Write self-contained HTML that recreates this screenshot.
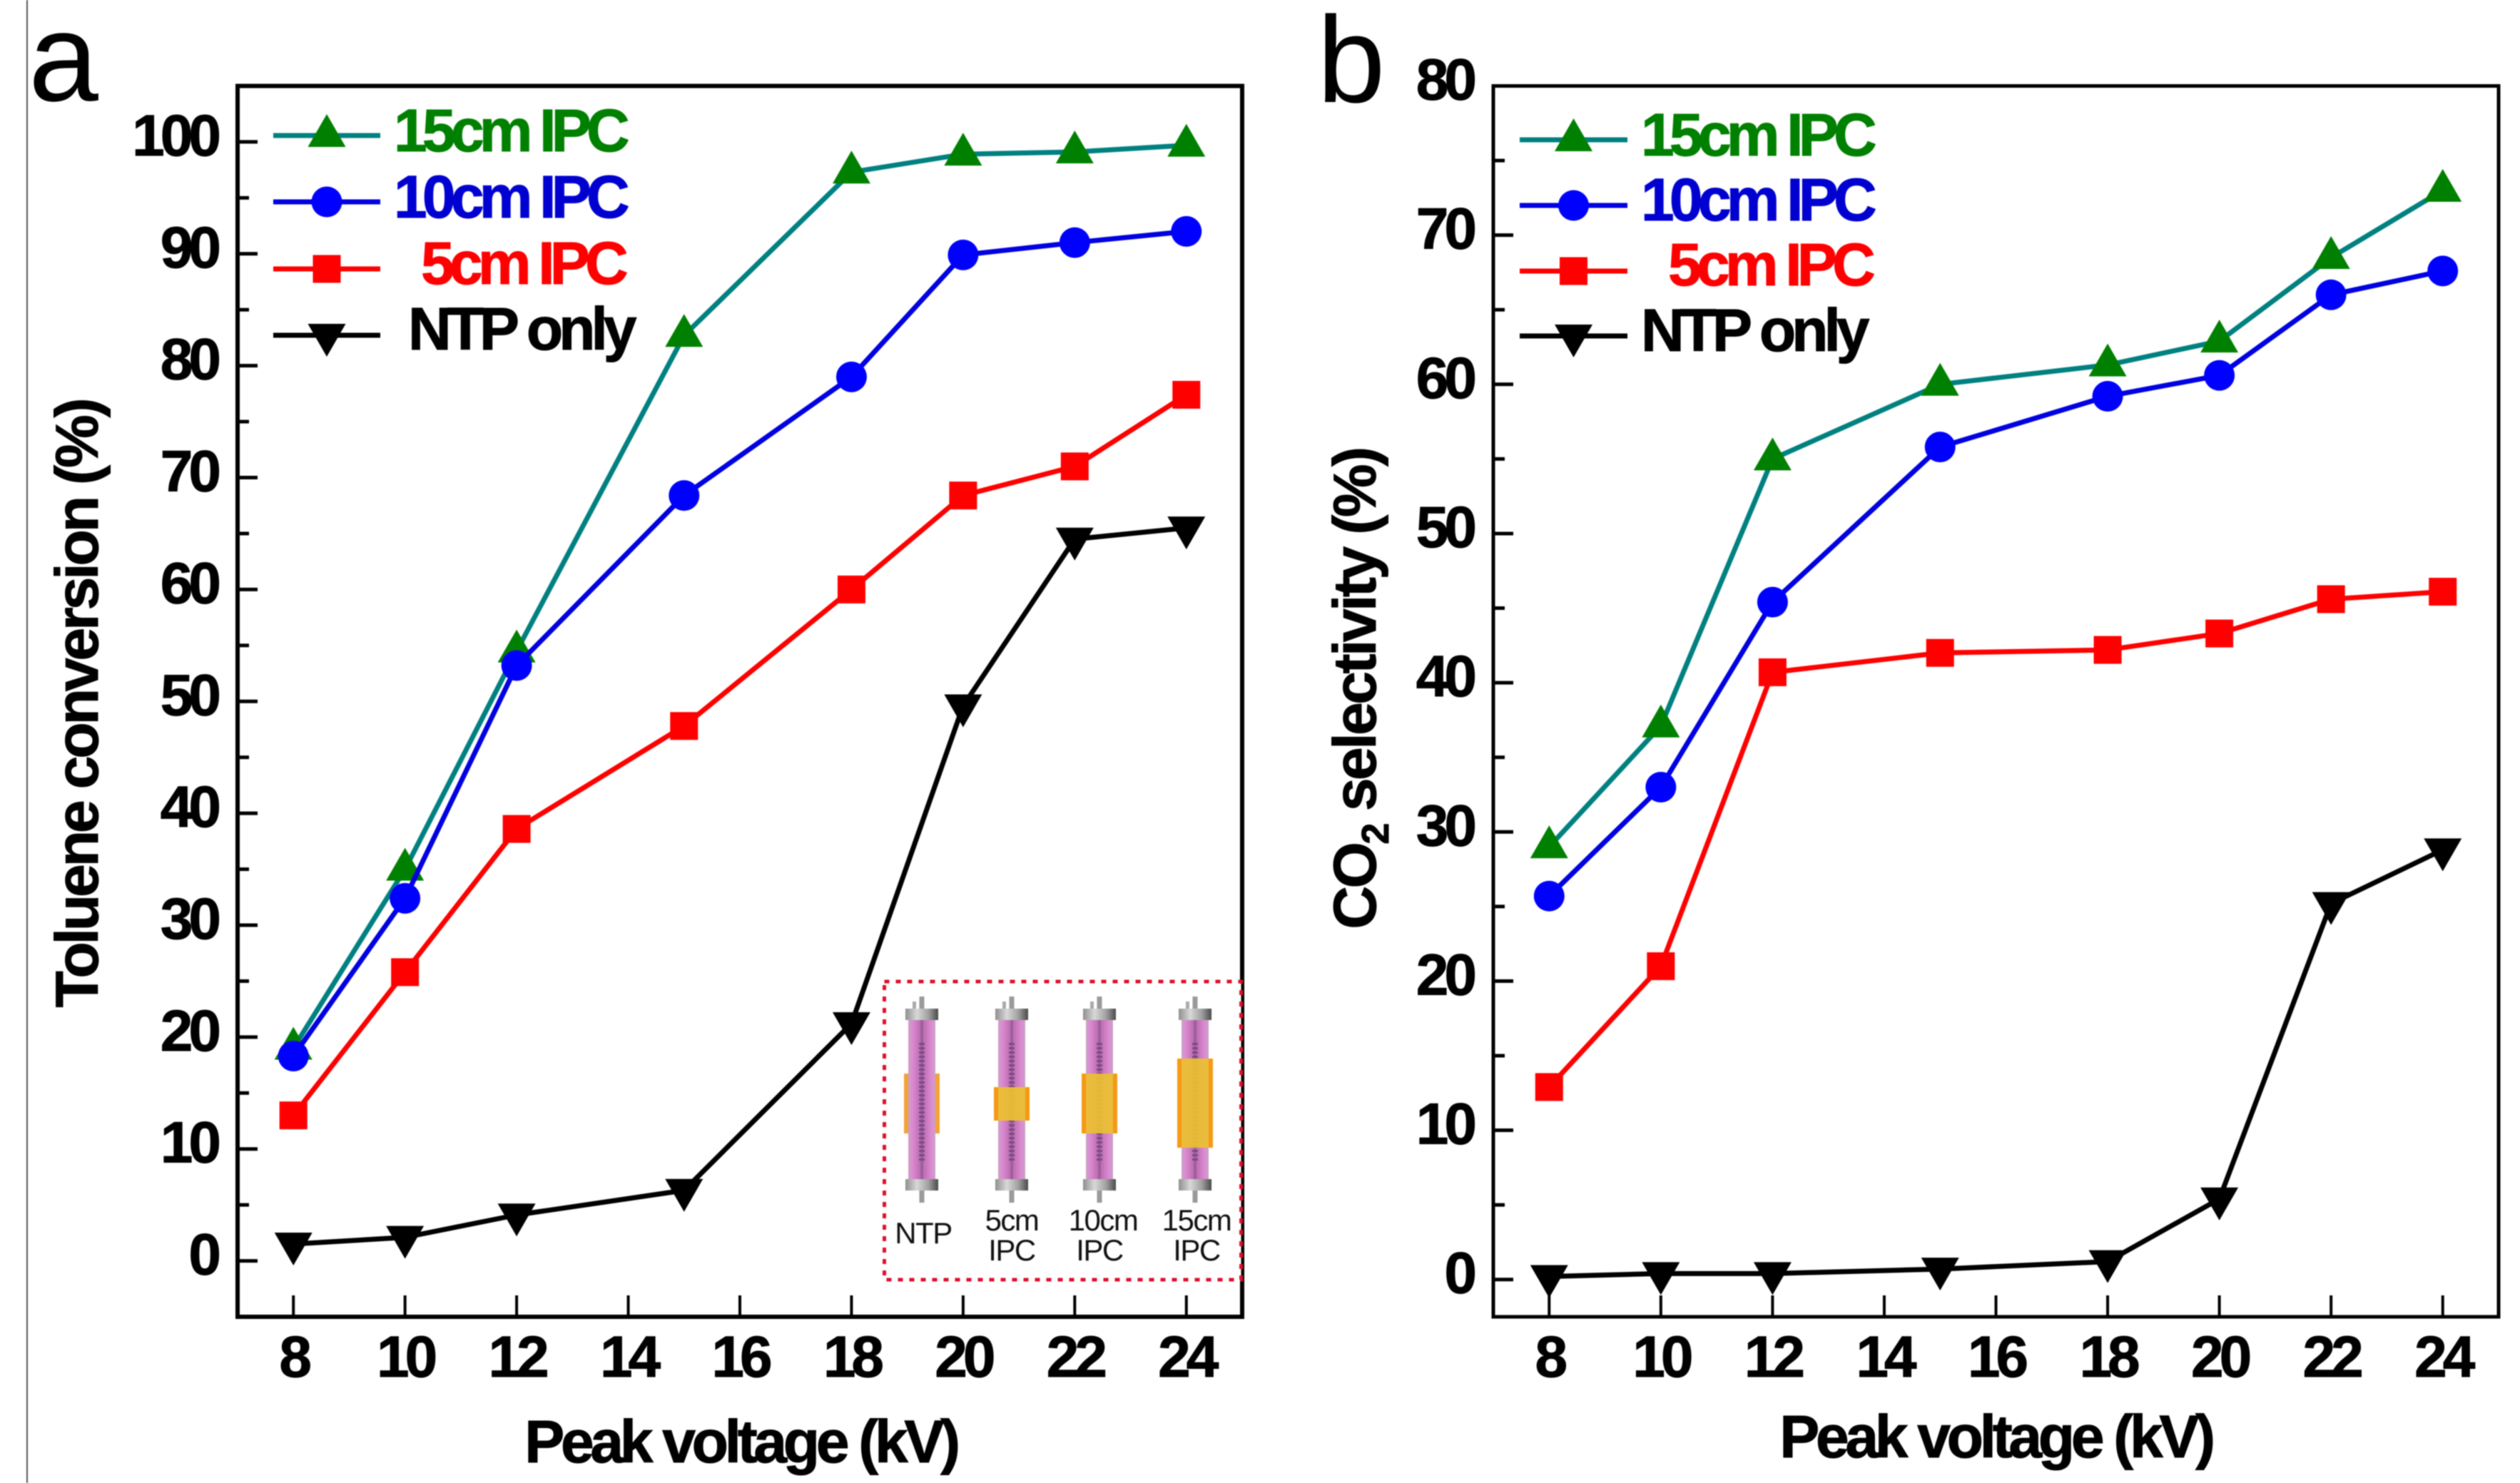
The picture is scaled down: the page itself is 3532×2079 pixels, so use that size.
<!DOCTYPE html>
<html lang="en">
<head>
<meta charset="utf-8">
<title>Toluene conversion and CO2 selectivity vs peak voltage</title>
<style>
html,body{margin:0;padding:0;background:#fff;}
svg{display:block;filter:blur(0.9px);}
text{font-family:"Liberation Sans",sans-serif;}
text[font-weight="bold"]{stroke:#000;stroke-width:1px;}
</style>
</head>
<body>
<svg id="figure" xmlns="http://www.w3.org/2000/svg" width="3532" height="2079" viewBox="0 0 3532 2079">
  <defs>
    <linearGradient id="capGrad" x1="0" x2="1" y1="0" y2="0">
      <stop offset="0" stop-color="#8f8f8f"/><stop offset=".35" stop-color="#d8d8d8"/><stop offset=".7" stop-color="#a0a0a0"/><stop offset="1" stop-color="#4a4a4a"/>
    </linearGradient>
    <linearGradient id="tubeGrad" x1="0" x2="1" y1="0" y2="0">
      <stop offset="0" stop-color="#c9a3c4"/><stop offset=".15" stop-color="#dc8ad2"/><stop offset=".42" stop-color="#c06fb4"/><stop offset=".5" stop-color="#8e5a92"/><stop offset=".58" stop-color="#c06fb4"/><stop offset=".85" stop-color="#dc8ad2"/><stop offset="1" stop-color="#c9a3c4"/>
    </linearGradient>
    <g id="tube-body">
      <rect x="-3.5" y="1397" width="7" height="20" fill="#9a9a9a"/>
      <rect x="-13" y="1404" width="5" height="12" fill="#aaa"/>
      <rect x="-3.5" y="1666" width="7" height="20" fill="#9a9a9a"/>
      <rect x="-19" y="1428" width="38" height="226" fill="url(#tubeGrad)"/>
      <line x1="0" x2="0" y1="1462" y2="1628" stroke="#7a4a86" stroke-width="8" stroke-dasharray="3 3"/>
      <rect x="-23" y="1414" width="46" height="16" fill="url(#capGrad)"/>
      <rect x="-23" y="1653" width="46" height="16" fill="url(#capGrad)"/>
    </g>
  </defs>
  <rect x="0" y="0" width="3532" height="2079" fill="#fff"/>
  <rect x="37" y="0" width="2" height="2079" fill="#555"/>
  <text x="40" y="141" font-size="176">a</text>
  <text x="1846" y="143" font-size="172">b</text>
  <g id="panel-a"></g>
  <g id="panel-b"></g>

  <g>
    <rect x="1239.5" y="1376" width="500" height="418" fill="#fff" stroke="#e0102a" stroke-width="5" stroke-dasharray="7 9"/>
    <g transform="translate(1292 0)">
      <use href="#tube-body"/>
      <rect x="-25" y="1505" width="6" height="84" fill="#f3a13a"/><rect x="19" y="1505" width="6" height="84" fill="#f3a13a"/>
    </g>
    <g transform="translate(1418 0)">
      <use href="#tube-body"/>
      <rect x="-25" y="1524" width="50" height="47" fill="#ecc030" fill-opacity=".92"/><rect x="-25" y="1524" width="6" height="47" fill="#f59a14"/><rect x="19" y="1524" width="6" height="47" fill="#f59a14"/>
    </g>
    <g transform="translate(1541 0)">
      <use href="#tube-body"/>
      <rect x="-25" y="1505" width="50" height="84" fill="#ecc030" fill-opacity=".92"/><rect x="-25" y="1505" width="6" height="84" fill="#f59a14"/><rect x="19" y="1505" width="6" height="84" fill="#f59a14"/>
    </g>
    <g transform="translate(1675 0)">
      <use href="#tube-body"/>
      <rect x="-25" y="1484" width="50" height="125" fill="#ecc030" fill-opacity=".92"/><rect x="-25" y="1484" width="6" height="125" fill="#f59a14"/><rect x="19" y="1484" width="6" height="125" fill="#f59a14"/>
    </g>
    <g font-size="42" text-anchor="middle" letter-spacing="-1.5" fill="#111">
      <text x="1294" y="1743">NTP</text>
      <text x="1418" y="1725">5cm</text>
      <text x="1418" y="1767">IPC</text>
      <text x="1546" y="1725">10cm</text>
      <text x="1541" y="1767">IPC</text>
      <text x="1677" y="1725">15cm</text>
      <text x="1677" y="1767">IPC</text>
    </g>
  </g>
</svg>
<script>
// ---- chart data ----
const voltages = [8, 10, 12, 15, 18, 20, 22, 24];
const xTickLabels = [8, 10, 12, 14, 16, 18, 20, 22, 24];

const tolueneIpc15 = [19, 35, 54.5, 82.7, 97.3, 98.9, 99.1, 99.7];
const tolueneIpc10 = [18.3, 32.4, 53.2, 68.4, 79, 89.9, 91, 92];
const tolueneIpc5 = [13, 25.8, 38.6, 47.8, 60, 68.4, 71, 77.4];
const tolueneNtp = [1.5, 2.1, 4.1, 6.3, 21.2, 49.6, 64.5, 65.5];
const tolueneYTickLabels = [0, 10, 20, 30, 40, 50, 60, 70, 80, 90, 100];
const tolueneYMinorTicks = [5, 15, 25, 35, 45, 55, 65, 75, 85, 95];

const co2Ipc15 = [29, 37.1, 55, 60, 61.3, 62.9, 68.5, 73];
const co2Ipc10 = [25.7, 33, 45.4, 55.8, 59.2, 60.6, 66, 67.6];
const co2Ipc5 = [12.9, 21, 40.7, 42, 42.2, 43.3, 45.6, 46.1];
const co2Ntp = [0.2, 0.4, 0.4, 0.7, 1.2, 5.4, 25.2, 28.8];
const co2YTickLabels = [0, 10, 20, 30, 40, 50, 60, 70, 80];
const co2YMinorTicks = [5, 15, 25, 35, 45, 55, 65, 75];

const seriesNames = ['15cm IPC', '10cm IPC', '5cm IPC', 'NTP only'];

// ---- drawing ----
const NS = 'http://www.w3.org/2000/svg';
const STYLE = {
  '15cm IPC': {line: '#008080', fill: '#008000', text: '#008000', marker: 'up', slug: 'ipc-15cm'},
  '10cm IPC': {line: '#0000e0', fill: '#0000ff', text: '#0000d0', marker: 'circle', slug: 'ipc-10cm'},
  '5cm IPC': {line: '#ff0000', fill: '#ff0000', text: '#ff0000', marker: 'square', slug: 'ipc-5cm'},
  'NTP only': {line: '#000000', fill: '#000000', text: '#000000', marker: 'down', slug: 'ntp-only'}
};

function make(parent, tag, attrs) {
  const node = document.createElementNS(NS, tag);
  for (const key in attrs) node.setAttribute(key, attrs[key]);
  parent.appendChild(node);
  return node;
}

function drawMarker(parent, kind, cx, cy, fill) {
  let node;
  if (kind === 'up') {
    node = make(parent, 'polygon', {points: `${cx},${cy - 30} ${cx + 26.5},${cy + 16} ${cx - 26.5},${cy + 16}`, fill});
  } else if (kind === 'down') {
    node = make(parent, 'polygon', {points: `${cx},${cy + 30} ${cx + 26.5},${cy - 16} ${cx - 26.5},${cy - 16}`, fill});
  } else if (kind === 'circle') {
    node = make(parent, 'circle', {cx, cy, r: 21.5, fill});
  } else {
    node = make(parent, 'rect', {x: cx - 19.5, y: cy - 19.5, width: 39, height: 39, fill});
  }
  return node;
}

function drawPanel(cfg) {
  const root = document.getElementById(cfg.id);
  const xScale = v => cfg.left + (v - cfg.xMin) / (cfg.xMax - cfg.xMin) * (cfg.right - cfg.left);
  const yScale = v => cfg.bottom - (v - cfg.yMin) / (cfg.yMax - cfg.yMin) * (cfg.bottom - cfg.top);

  // y ticks
  cfg.yTicks.forEach(v => {
    const tick = make(root, 'line', {x1: cfg.left, x2: cfg.left + 28, y1: yScale(v), y2: yScale(v), stroke: '#000', 'stroke-width': 5});
    
    
    const label = make(root, 'text', {x: cfg.yLabelRight, y: yScale(v) + 19, 'font-size': 82, 'font-weight': 'bold', 'text-anchor': 'end', 'letter-spacing': -6});
    label.textContent = v;
    
    
  });
  cfg.yMinor.forEach(v => {
    const tick = make(root, 'line', {x1: cfg.left, x2: cfg.left + 16, y1: yScale(v), y2: yScale(v), stroke: '#000', 'stroke-width': 5});
    
    
  });

  // x ticks
  xTickLabels.forEach(v => {
    const tick = make(root, 'line', {x1: xScale(v), x2: xScale(v), y1: cfg.bottom, y2: cfg.bottom - 30, stroke: '#000', 'stroke-width': 4});
    
    
    const label = make(root, 'text', {x: xScale(v), y: 1930, 'font-size': 82, 'font-weight': 'bold', 'text-anchor': 'middle', 'letter-spacing': -6});
    label.textContent = v;
    
    
  });

  // series
  cfg.series.forEach((values, i) => {
    const st = STYLE[seriesNames[i]];
    const group = make(root, 'g', {});
    
    
    const pts = values.map((v, j) => xScale(voltages[j]) + ',' + yScale(v)).join(' ');
    const line = make(group, 'polyline', {points: pts, fill: 'none', stroke: st.line, 'stroke-width': 7, 'stroke-linejoin': 'round'});
    
    
    values.forEach((v, j) => {
      const m = drawMarker(group, st.marker, xScale(voltages[j]), yScale(v), st.fill);
      
      
    });
  });

  // frame
  const frame = make(root, 'rect', {x: cfg.left, y: cfg.top, width: cfg.right - cfg.left, height: cfg.bottom - cfg.top, fill: 'none', stroke: '#000', 'stroke-width': cfg.frameWidth});
  
  

  // axis titles
  const xTitle = make(root, 'text', {x: cfg.xTitleX, y: cfg.xTitleY, 'font-size': 84, 'font-weight': 'bold', 'text-anchor': 'middle', 'letter-spacing': -5.3});
  xTitle.textContent = 'Peak voltage (kV)';
  
  

  const yTitle = make(root, 'text', {transform: `translate(${cfg.yTitleX} ${cfg.yTitleY}) rotate(-90)`, 'font-size': 84, 'font-weight': 'bold', 'text-anchor': 'middle', 'letter-spacing': cfg.yTitleSpacing});
  
  
  cfg.yTitleParts.forEach(part => {
    const span = make(yTitle, 'tspan', part.sub ? {dy: 18, 'font-size': 54} : (part.after ? {dy: -18} : {}));
    span.textContent = part.t;
  });

  // legend
  seriesNames.forEach((name, i) => {
    const st = STYLE[name];
    const entry = make(root, 'g', {});
    
    
    const ly = cfg.legendY[i];
    make(entry, 'line', {x1: cfg.legendX1, x2: cfg.legendX2, y1: ly, y2: ly, stroke: st.line, 'stroke-width': 7});
    drawMarker(entry, st.marker, (cfg.legendX1 + cfg.legendX2) / 2, ly, st.fill);
    const label = make(entry, 'text', {x: cfg.legendTextX[i], y: cfg.legendBase[i], 'font-size': 84, 'font-weight': 'bold', fill: st.text, style: 'stroke:' + st.text, 'letter-spacing': i === 3 ? -6 : -6.8});
    label.textContent = name;
  });
}

drawPanel({
  id: 'panel-a', left: 333, right: 1741, top: 120.5, bottom: 1846,
  xMin: 7, xMax: 25, yMin: -5, yMax: 105, frameWidth: 6,
  yTicks: tolueneYTickLabels, yMinor: tolueneYMinorTicks, yLabelRight: 304,
  series: [tolueneIpc15, tolueneIpc10, tolueneIpc5, tolueneNtp],
  xTitleX: 1038, xTitleY: 2050,
  yTitleX: 137, yTitleY: 987, yTitleSpacing: -4.1,
  yTitleParts: [{t: 'Toluene conversion (%)'}],
  legendX1: 383, legendX2: 533, legendY: [190, 283, 377, 470],
  legendTextX: [552, 552, 590, 572], legendBase: [212, 305, 398, 490]
});

drawPanel({
  id: 'panel-b', left: 2093, right: 3502, top: 120.5, bottom: 1846,
  xMin: 7, xMax: 25, yMin: -2.5, yMax: 80, frameWidth: 5,
  yTicks: co2YTickLabels, yMinor: co2YMinorTicks, yLabelRight: 2064,
  series: [co2Ipc15, co2Ipc10, co2Ipc5, co2Ntp],
  xTitleX: 2797, xTitleY: 2043,
  yTitleX: 1928, yTitleY: 966, yTitleSpacing: -3.5,
  yTitleParts: [{t: 'CO'}, {t: '2', sub: true}, {t: ' selectivity (%)', after: true}],
  legendX1: 2130, legendX2: 2281, legendY: [196, 288, 380, 471],
  legendTextX: [2300, 2300, 2338, 2300], legendBase: [218, 309, 400, 492]
});
</script>
</body>
</html>
